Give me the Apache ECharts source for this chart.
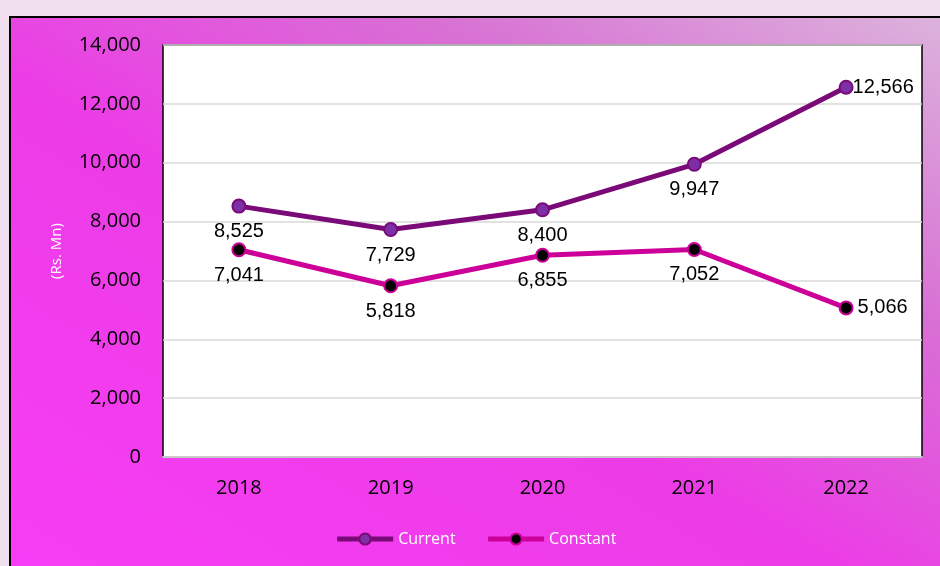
<!DOCTYPE html>
<html>
<head>
<meta charset="utf-8">
<script src="https://cdn.jsdelivr.net/npm/echarts@6/dist/echarts.min.js"></script>
<style>
	html, body { margin: 0; padding: 0; width: 940px; height: 566px; overflow: hidden; background: #efdfef; }
	#frame {
		position: absolute; left: 9px; top: 16px; width: 940px; height: 560px;
		border: 2px solid #000;
		background: linear-gradient(to top right, #f83cf6 0%, #ec3ce6 45%, #d870d4 72%, #dcb4dc 100%);
	}
	#chart { position: absolute; left: 0; top: 0; width: 929px; height: 548px; }
</style>
</head>
<body>
<div id="frame"><div id="chart"></div></div>
<script>
const years = ['2018', '2019', '2020', '2021', '2022'];
const currentValues = [8525, 7729, 8400, 9947, 12566];
const constantValues = [7041, 5818, 6855, 7052, 5066];
const yMin = 0, yMax = 14000, yStep = 2000;

document.addEventListener('DOMContentLoaded', function() {
	const chart = echarts.init(document.getElementById('chart'));

	// last point label sits to the right, the rest under the marker
	function labelFor(values, rightGap) {
		return values.map((v, i) => ({
			value: v,
			label: i === values.length - 1
				? { position: 'right', distance: rightGap }
				: { position: 'bottom', distance: 8 }
		}));
	}

	const dataLabel = {
		show: true,
		color: '#000',
		fontFamily: 'Liberation Sans, Arial, sans-serif',
		fontSize: 20,
		formatter: p => p.value.toLocaleString('en-US')
	};

	chart.setOption({
		animation: false,
		backgroundColor: 'transparent',
		grid: {
			left: 152, right: 18, top: 27, bottom: 109,
			show: true, backgroundColor: '#fff', borderColor: '#000', borderWidth: 1.5
		},
		legend: {
			bottom: 14,
			left: 'center',
			itemWidth: 56,
			itemHeight: 14,
			itemGap: 30,
			lineStyle: { width: 5 },
			textStyle: { color: '#fff', fontSize: 16, fontFamily: 'Open Sans, sans-serif' },
			data: ['Current', 'Constant']
		},
		xAxis: {
			type: 'category',
			data: years,
			boundaryGap: true,
			axisLine: { lineStyle: { color: '#c8c8c8', width: 2 } },
			axisTick: { show: false },
			axisLabel: { color: '#000', fontSize: 20, margin: 21, fontFamily: 'Open Sans, sans-serif' }
		},
		yAxis: {
			type: 'value',
			min: yMin, max: yMax, interval: yStep,
			name: '(Rs. Mn)',
			nameLocation: 'middle',
			nameGap: 99,
			nameTextStyle: { color: '#fff', fontSize: 15, fontFamily: 'Open Sans, sans-serif' },
			axisLine: { show: false },
			axisTick: { show: false },
			splitLine: { lineStyle: { color: '#d9d9d9', width: 1.5 } },
			axisLabel: {
				color: '#000', fontSize: 20, margin: 22, fontFamily: 'Open Sans, sans-serif',
				formatter: v => v.toLocaleString('en-US')
			}
		},
		series: [
			{
				name: 'Current', type: 'line',
				data: labelFor(currentValues, -1),
				symbol: 'circle', symbolSize: 13,
				lineStyle: { color: '#7a0a78', width: 5 },
				itemStyle: { color: '#7d2fa6', borderColor: '#7a0a78', borderWidth: 2 },
				label: dataLabel
			},
			{
				name: 'Constant', type: 'line',
				data: labelFor(constantValues, 4),
				symbol: 'circle', symbolSize: 13,
				lineStyle: { color: '#cc0099', width: 5 },
				itemStyle: { color: '#000', borderColor: '#cc0099', borderWidth: 2 },
				label: dataLabel
			}
		]
	});
});
</script>
</body>
</html>
